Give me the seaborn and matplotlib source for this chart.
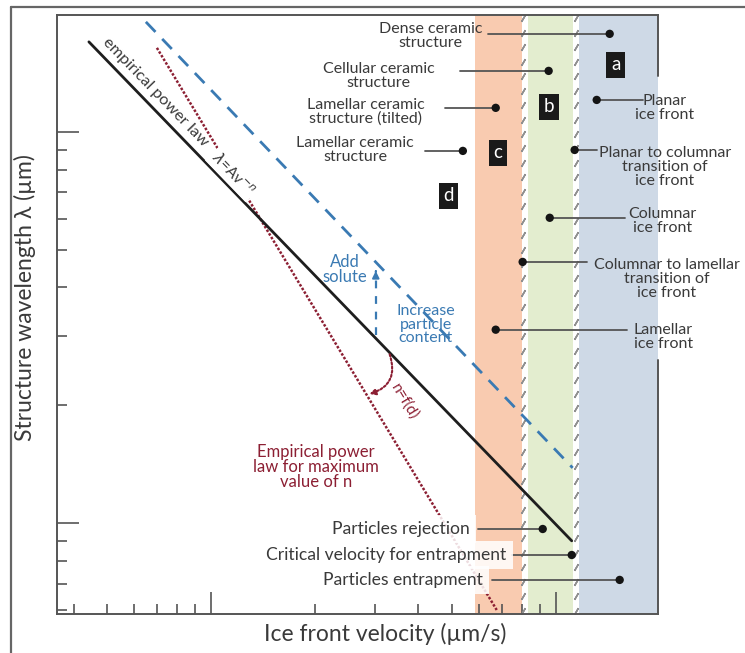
import numpy as np
import pandas as pd
import matplotlib
matplotlib.use("Agg")
import matplotlib.pyplot as plt
import seaborn as sns
from matplotlib.lines import Line2D
from matplotlib.patches import FancyArrowPatch
from matplotlib.ticker import FixedLocator, LogLocator, NullFormatter

# ---------------------------------------------------------------- data
# velocity in µm/s, structure wavelength in µm (log-log schematic)
power_law_v = [0.443, 11.13]          # empirical power law  λ = A v^-n
power_law_lam = [16.99, 0.90]
solute_v = [0.648, 11.20]             # shifted law (solute / particle content)
solute_lam = [19.11, 1.383]
max_n_v = [0.6975, 6.745]             # empirical power law for maximum n
max_n_lam = [16.40, 0.599]

band_lo = [5.82, 8.29, 11.66]         # regimes c, b, a
band_hi = [7.97, 11.20, 19.8]
boundary_v = [8.02, 11.43]            # structural transitions

regime_labels = ["a", "b", "c", "d"]
regime_v = [14.93, 9.54, 6.79, 4.89]
regime_lam = [14.84, 11.59, 8.84, 6.86]

marker_labels = [
    "Dense ceramic\nstructure",
    "Cellular ceramic\nstructure",
    "Lamellar ceramic\nstructure (tilted)",
    "Lamellar ceramic\nstructure",
    "Planar\nice front",
    "Planar to columnar\ntransition of\nice front",
    "Columnar\nice front",
    "Columnar to lamellar\ntransition of\nice front",
    "Lamellar\nice front",
    "Particles rejection",
    "Critical velocity for entrapment",
    "Particles entrapment",
]
marker_v = [14.34, 9.54, 6.70, 5.38, 13.15, 11.35, 9.61, 8.02, 6.70, 9.17, 11.13, 15.33]
marker_lam = [17.81, 14.32, 11.52, 8.94, 12.07, 8.99, 6.03, 4.65, 3.12, 0.965, 0.828, 0.715]

# ---------------------------------------------------------------- layout
XLIM = (0.358, 19.8)
YLIM = (0.585, 19.9)
FONT = ["Lato", "DejaVu Sans"]
TXT = "#3a3a3a"
AX = "#555555"
BLUE = "#3a7ab3"
RED = "#8c1f33"
BAND_COLORS = ["#f9cbb0", "#e3edcf", "#ced9e6"]

# leader-line end (velocity), text anchor (v, λ), alignment
label_layout = [
    (6.35, 4.34, 17.6, "center"),
    (5.27, 3.07, 13.91, "center"),
    (4.77, 2.81, 11.25, "center"),
    (4.17, 2.62, 8.99, "center"),
    (17.87, 20.7, 11.52, "center"),
    (13.15, 20.70, 8.14, "center"),
    (15.85, 20.35, 5.92, "center"),
    (12.30, 21.0, 4.21, "center"),
    (16.06, 20.5, 2.99, "center"),
    (5.94, 5.63, 0.965, "right"),
    (7.45, 7.21, 0.828, "right"),
    (6.52, 6.14, 0.715, "right"),
]

sns.set_theme(style="white")
plt.rcParams["font.family"] = FONT

fig = plt.figure(figsize=(7.45, 6.53), dpi=100)
ax = fig.add_axes([57 / 745, 39 / 653, 601 / 745, 599 / 653])
ax.set_xscale("log")
ax.set_yscale("log")
ax.set_xlim(*XLIM)
ax.set_ylim(*YLIM)


def on_line(v, xs, ys):
    return 10 ** np.interp(np.log10(v), np.log10(xs), np.log10(ys))


def line_angle(xs, ys):
    p = ax.transData.transform(np.column_stack([xs, ys]))
    return np.degrees(np.arctan2(p[1, 1] - p[0, 1], p[1, 0] - p[0, 0]))


# outer frame of the figure panel
fig.add_artist(Line2D([11 / 745, 11 / 745], [0, 1 - 7 / 653], transform=fig.transFigure,
                      color="#666666", lw=1.6))
fig.add_artist(Line2D([11 / 745, 1], [1 - 7 / 653, 1 - 7 / 653], transform=fig.transFigure,
                      color="#666666", lw=1.6))

# regime bands and transition boundaries
for lo, hi, c in zip(band_lo, band_hi, BAND_COLORS):
    ax.axvspan(lo, hi, color=c, lw=0, zorder=0)
hatch_y = np.geomspace(YLIM[0] * 1.02, YLIM[1] * 0.98, 42)
for bv in boundary_v:
    ax.plot(np.full_like(hatch_y, bv), hatch_y, ls="none", marker=(2, 2, -30),
            ms=5.5, mew=1.1, color="#909090", zorder=1)

# spines and ticks
for s in ["left", "bottom", "top"]:
    ax.spines[s].set_color(AX)
    ax.spines[s].set_linewidth(1.4)
ax.spines["right"].set_visible(False)
ax.plot([1, 1], [0, (614 - 360) / 599], transform=ax.transAxes, color=AX, lw=1.4,
        clip_on=False, zorder=2)
ax.plot([1, 1], [(614 - 76) / 599, 1], transform=ax.transAxes, color=AX, lw=1.4,
        clip_on=False, zorder=2)
for axis in (ax.xaxis, ax.yaxis):
    axis.set_major_locator(FixedLocator([1, 10]))
    axis.set_minor_locator(LogLocator(base=10, subs=np.arange(2, 10)))
    axis.set_major_formatter(NullFormatter())
    axis.set_minor_formatter(NullFormatter())
ax.tick_params(which="major", direction="in", length=15.5, width=1.2, color=AX,
               bottom=True, left=True, top=False, right=False)
ax.tick_params(which="minor", direction="in", length=7.5, width=1.2, color=AX,
               bottom=True, left=True, top=False, right=False)

# power laws
sns.lineplot(x=max_n_v, y=max_n_lam, ax=ax, color=RED, lw=1.8, ls=(0, (1, 0.7)), zorder=3)
sns.lineplot(x=solute_v, y=solute_lam, ax=ax, color=BLUE, lw=2.0, ls=(0, (5, 3.5)), zorder=3)
sns.lineplot(x=power_law_v, y=power_law_lam, ax=ax, color="#1e1e1e", lw=2.0, zorder=4)

ang_black = line_angle(power_law_v, power_law_lam)
ang_red = line_angle(max_n_v, max_n_lam)

ax.text(0.689, 12.66, "empirical power law", rotation=ang_black, rotation_mode="anchor",
        ha="center", va="center", fontsize=11.8, color=TXT, zorder=5)
ax.text(1.158, 7.81, r"$\lambda$=Av$^{-n}$", rotation=ang_black, rotation_mode="anchor",
        ha="center", va="center", fontsize=11, color=TXT, zorder=5,
        bbox=dict(boxstyle="square,pad=0.15", fc="white", ec="none"))

# add solute arrow
v_ar = 3.008
lam_a = on_line(v_ar, power_law_v, power_law_lam)
lam_b = on_line(v_ar, solute_v, solute_lam) * 0.965
ax.plot([v_ar, v_ar], [lam_a * 1.02, lam_b / 1.03], color=BLUE, lw=1.6, ls=(0, (3.5, 3.5)),
        zorder=3)
ax.annotate("", xy=(v_ar, lam_b), xytext=(v_ar, lam_b / 1.035),
            arrowprops=dict(arrowstyle="-|>", color=BLUE, lw=1.4, mutation_scale=10))
ax.text(2.445, 4.44, "Add\nsolute", ha="center", va="center", fontsize=12, color=BLUE,
        linespacing=0.95)
ax.text(4.20, 3.21, "Increase\nparticle\ncontent", ha="center", va="center", fontsize=11.5,
        color=BLUE, linespacing=0.95)

# n = f(d) arc between the two laws
va_, vb_ = 3.28, 2.83
arc = FancyArrowPatch(posA=(va_, on_line(va_, power_law_v, power_law_lam)),
                      posB=(vb_, on_line(vb_, max_n_v, max_n_lam)),
                      connectionstyle="arc3,rad=-0.55", arrowstyle="-|>",
                      mutation_scale=9, color=RED, lw=1.5, linestyle=(0, (1, 1)),
                      transform=ax.transData, zorder=4)
ax.add_patch(arc)
ax.text(3.65, 2.04, "n=f(d)", rotation=ang_red, rotation_mode="anchor", ha="center",
        va="center", fontsize=11, color=RED)
ax.text(2.015, 1.39, "Empirical power\nlaw for maximum\nvalue of n", ha="center",
        va="center", fontsize=12, color=RED, linespacing=0.95)

# regime tags
for lab, v, lam in zip(regime_labels, regime_v, regime_lam):
    ax.text(v, lam, lab, ha="center", va="center", fontsize=13.5, color="white", zorder=6,
            bbox=dict(boxstyle="square,pad=0.25", fc="#1a1a1a", ec="none"))

# labelled points with leader lines
for lab, v, lam, (end_v, tv, tl, ha) in zip(marker_labels, marker_v, marker_lam, label_layout):
    ax.plot([v, end_v], [lam, lam], color=AX, lw=1.3, zorder=5, clip_on=False)
    bottom = ha == "right"
    ax.text(tv, tl, lab, ha=ha, va="center", fontsize=12.6 if bottom else 11.5, color=TXT,
            linespacing=1.0, zorder=6 if bottom else 5,
            bbox=dict(boxstyle="square,pad=0.36", fc="white", ec="none", alpha=0.85)
            if bottom else None)
sns.scatterplot(x=marker_v, y=marker_lam, ax=ax, color="#141414", s=36, edgecolor="none",
                zorder=7, clip_on=False)

ax.set_xlabel("Ice front velocity (µm/s)", fontsize=16.5, color=TXT)
ax.xaxis.set_label_coords((385 - 57) / 601, -0.015)
ax.set_ylabel("Structure wavelength λ (µm)", fontsize=16.5, color=TXT)
ax.yaxis.set_label_coords(-0.035, (614 - 298) / 599)

fig.savefig("out.png", dpi=100, facecolor="white")
